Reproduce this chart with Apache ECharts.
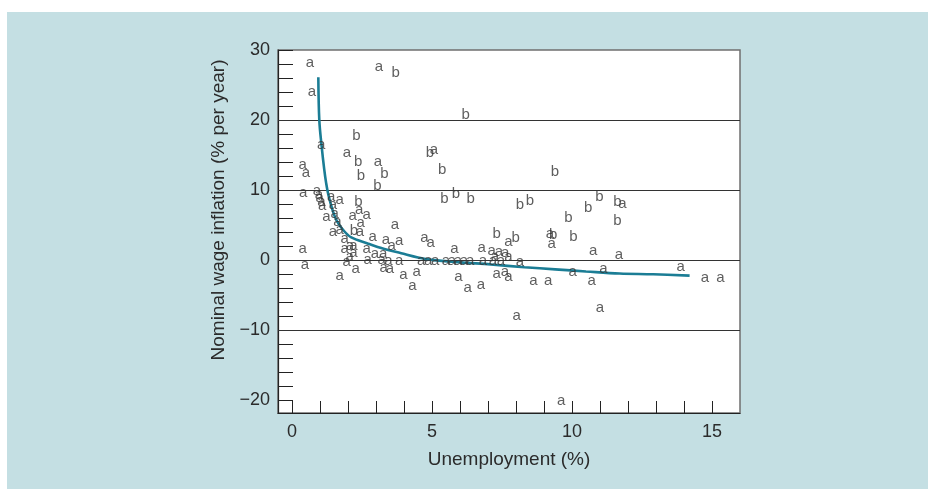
<!DOCTYPE html>
<html>
<head>
<meta charset="utf-8">
<script src="https://cdn.jsdelivr.net/npm/echarts@6/dist/echarts.min.js"></script>
<style>
  html, body { margin: 0; padding: 0; background: #ffffff; width: 928px; height: 489px; overflow: hidden; }
  #panel { position: absolute; left: 7px; top: 12px; right: 0; bottom: 0; background: #c4dfe3; }
  #chart { position: absolute; left: 0; top: 0; width: 928px; height: 489px; }
</style>
</head>
<body>
<div id="panel"></div>
<div id="chart"></div>
<script>
// Observations marked "a": [unemployment %, nominal wage inflation %]
const pointsA = [
  [0.64, 28.1], [0.71, 24.0], [3.1, 27.6], [1.04, 16.4], [1.96, 15.3], [3.07, 14.0],
  [5.07, 15.7], [0.38, 13.6], [0.5, 12.4], [0.4, 9.6],
  [0.89, 9.9], [0.96, 9.3], [0.99, 8.9], [1.05, 8.3], [1.08, 7.8], [1.4, 9.1],
  [1.7, 8.6], [1.46, 7.9], [1.23, 6.2], [1.52, 6.6], [1.62, 5.5], [2.17, 6.4],
  [2.45, 5.3], [2.67, 6.5], [2.4, 7.2], [1.46, 4.1], [1.7, 4.4], [2.43, 4.0],
  [1.88, 3.1], [2.19, 2.1], [1.88, 1.6], [2.19, 1.0], [2.06, 0.5], [2.07, 2.0],
  [2.67, 1.6], [2.88, 3.4], [3.35, 2.9], [3.83, 2.8], [3.56, 2.0], [3.68, 5.0],
  [2.96, 0.9], [3.26, 0.9], [1.95, -0.2], [2.7, 0.0], [3.2, 0.0], [3.44, -0.1],
  [3.83, -0.1], [2.27, -1.3], [1.7, -2.3], [3.27, -1.1], [3.5, -1.3], [3.98, -2.1],
  [4.3, -3.6], [4.45, -1.6], [0.38, 1.6], [0.46, -0.6],
  [4.73, 3.2], [4.95, 2.5], [4.61, -0.1], [4.86, -0.1], [5.11, -0.1], [5.5, -0.1],
  [5.71, -0.1], [5.93, -0.1], [6.14, -0.1], [6.36, -0.1], [6.82, -0.1], [7.18, -0.1],
  [7.46, -0.1], [8.14, -0.3], [5.8, 1.6], [6.77, 1.8], [7.73, 2.6], [7.13, 1.4],
  [7.39, 1.2], [7.61, 1.0], [7.25, 0.5], [7.73, 0.5], [5.94, -2.4], [6.27, -4.0],
  [6.75, -3.5], [7.31, -1.9], [7.6, -1.7], [7.73, -2.4], [8.62, -2.9], [9.15, -2.9],
  [8.02, -7.9], [9.21, 3.8], [9.27, 2.4], [10.76, 1.3], [11.68, 0.8], [10.02, -1.6],
  [11.12, -1.3], [10.7, -3.0], [11.0, -6.8], [13.88, -0.9], [14.75, -2.5], [15.3, -2.5],
  [9.61, -20.0], [11.8, 8.0]
];

// Observations marked "b"
const pointsB = [
  [3.7, 26.7], [6.2, 20.7], [2.3, 17.7], [2.36, 14.0], [2.46, 12.1], [3.3, 12.3],
  [3.05, 10.6], [4.93, 15.3], [5.36, 12.9], [9.39, 12.6], [5.44, 8.8], [5.85, 9.4],
  [6.38, 8.8], [8.14, 7.9], [8.5, 8.5], [9.87, 6.0], [10.58, 7.5], [10.98, 9.1],
  [11.62, 8.3], [11.62, 5.6], [2.37, 8.3], [2.21, 4.2], [7.31, 3.8], [7.99, 3.2],
  [9.33, 3.6], [10.05, 3.3]
];

// Fitted Phillips curve
const fittedCurve = [
  [0.94, 26.1], [0.975, 20.0], [1.06, 16.2], [1.15, 13.0], [1.22, 11.0], [1.3, 9.3],
  [1.46, 7.0], [1.6, 5.6], [1.83, 4.3], [2.1, 3.3], [2.7, 2.4], [3.3, 1.6],
  [3.9, 1.0], [4.5, 0.4], [5.0, 0.05], [6.0, -0.3], [7.1, -0.6], [8.3, -1.0],
  [9.4, -1.3], [10.5, -1.6], [11.7, -1.9], [12.9, -2.0], [14.2, -2.2]
];

const xLabelValues = [0, 5, 10, 15];
const xTickValues = [0, 1, 2, 3, 4, 5, 6, 7, 8, 9, 10, 11, 12, 13, 14, 15];
const yLabelValues = [-20, -10, 0, 10, 20, 30];
const yTickValues = [-20, -18, -16, -14, -12, -10, -8, -6, -4, -2, 0, 2, 4, 6, 8,
  10, 12, 14, 16, 18, 20, 22, 24, 26, 28, 30];
const gridValues = [20, 10, 0, -10];

const FONT = "'Liberation Sans', Arial, Helvetica, sans-serif";
const INK = '#2b2b2b';
const minus = v => String(v).replace('-', '\u2212');

const chart = echarts.init(document.getElementById('chart'), null, { renderer: 'canvas' });

function letterSeries(data, letter) {
  return {
    type: 'scatter',
    data: data,
    symbolSize: 1,
    itemStyle: { color: 'rgba(0,0,0,0)' },
    label: {
      show: true,
      position: 'inside',
      formatter: letter,
      color: '#363636',
      fontFamily: FONT,
      fontSize: 15
    },
    emphasis: { disabled: true },
    silent: true,
    z: 5
  };
}

chart.setOption({
  animation: false,
  backgroundColor: 'transparent',
  textStyle: { fontFamily: FONT },
  grid: {
    left: 278, right: 188, top: 50, bottom: 76,
    show: true,
    backgroundColor: '#ffffff',
    borderColor: '#6f6f6f',
    borderWidth: 1.5
  },
  xAxis: {
    type: 'value',
    min: -0.5,
    max: 16,
    name: 'Unemployment (%)',
    nameLocation: 'middle',
    nameGap: 37,
    nameTextStyle: { fontSize: 19, color: INK, fontFamily: FONT },
    axisLine: { show: true, onZero: false, lineStyle: { color: '#222', width: 1.2 } },
    axisTick: { show: true, inside: true, length: 12, customValues: xTickValues, lineStyle: { color: '#222', width: 1 } },
    axisLabel: { customValues: xLabelValues, fontSize: 18, color: INK, margin: 10, fontFamily: FONT },
    splitLine: { show: false }
  },
  yAxis: {
    type: 'value',
    min: -21.8,
    max: 30,
    name: 'Nominal wage inflation (% per year)',
    nameLocation: 'middle',
    nameGap: 50,
    nameTextStyle: { fontSize: 19, color: INK, fontFamily: FONT, padding: [0, 0, 0, 43] },
    axisLine: { show: true, onZero: false, lineStyle: { color: '#222', width: 1.2 } },
    axisTick: { show: true, inside: true, length: 15, customValues: yTickValues, lineStyle: { color: '#222', width: 1 } },
    axisLabel: { customValues: yLabelValues, formatter: minus, fontSize: 18, color: INK, margin: 8, fontFamily: FONT },
    splitLine: { show: false }
  },
  series: [
    {
      type: 'line',
      data: fittedCurve,
      smooth: 0.35,
      showSymbol: false,
      silent: true,
      lineStyle: { color: '#1b7d95', width: 2.6 },
      z: 3,
      markLine: {
        silent: true,
        symbol: ['none', 'none'],
        label: { show: false },
        lineStyle: { color: '#333', width: 1.2, type: 'solid' },
        data: gridValues.map(v => ({ yAxis: v })),
        z: 2
      }
    },
    letterSeries(pointsA, 'a'),
    letterSeries(pointsB, 'b')
  ]
});
</script>
</body>
</html>
